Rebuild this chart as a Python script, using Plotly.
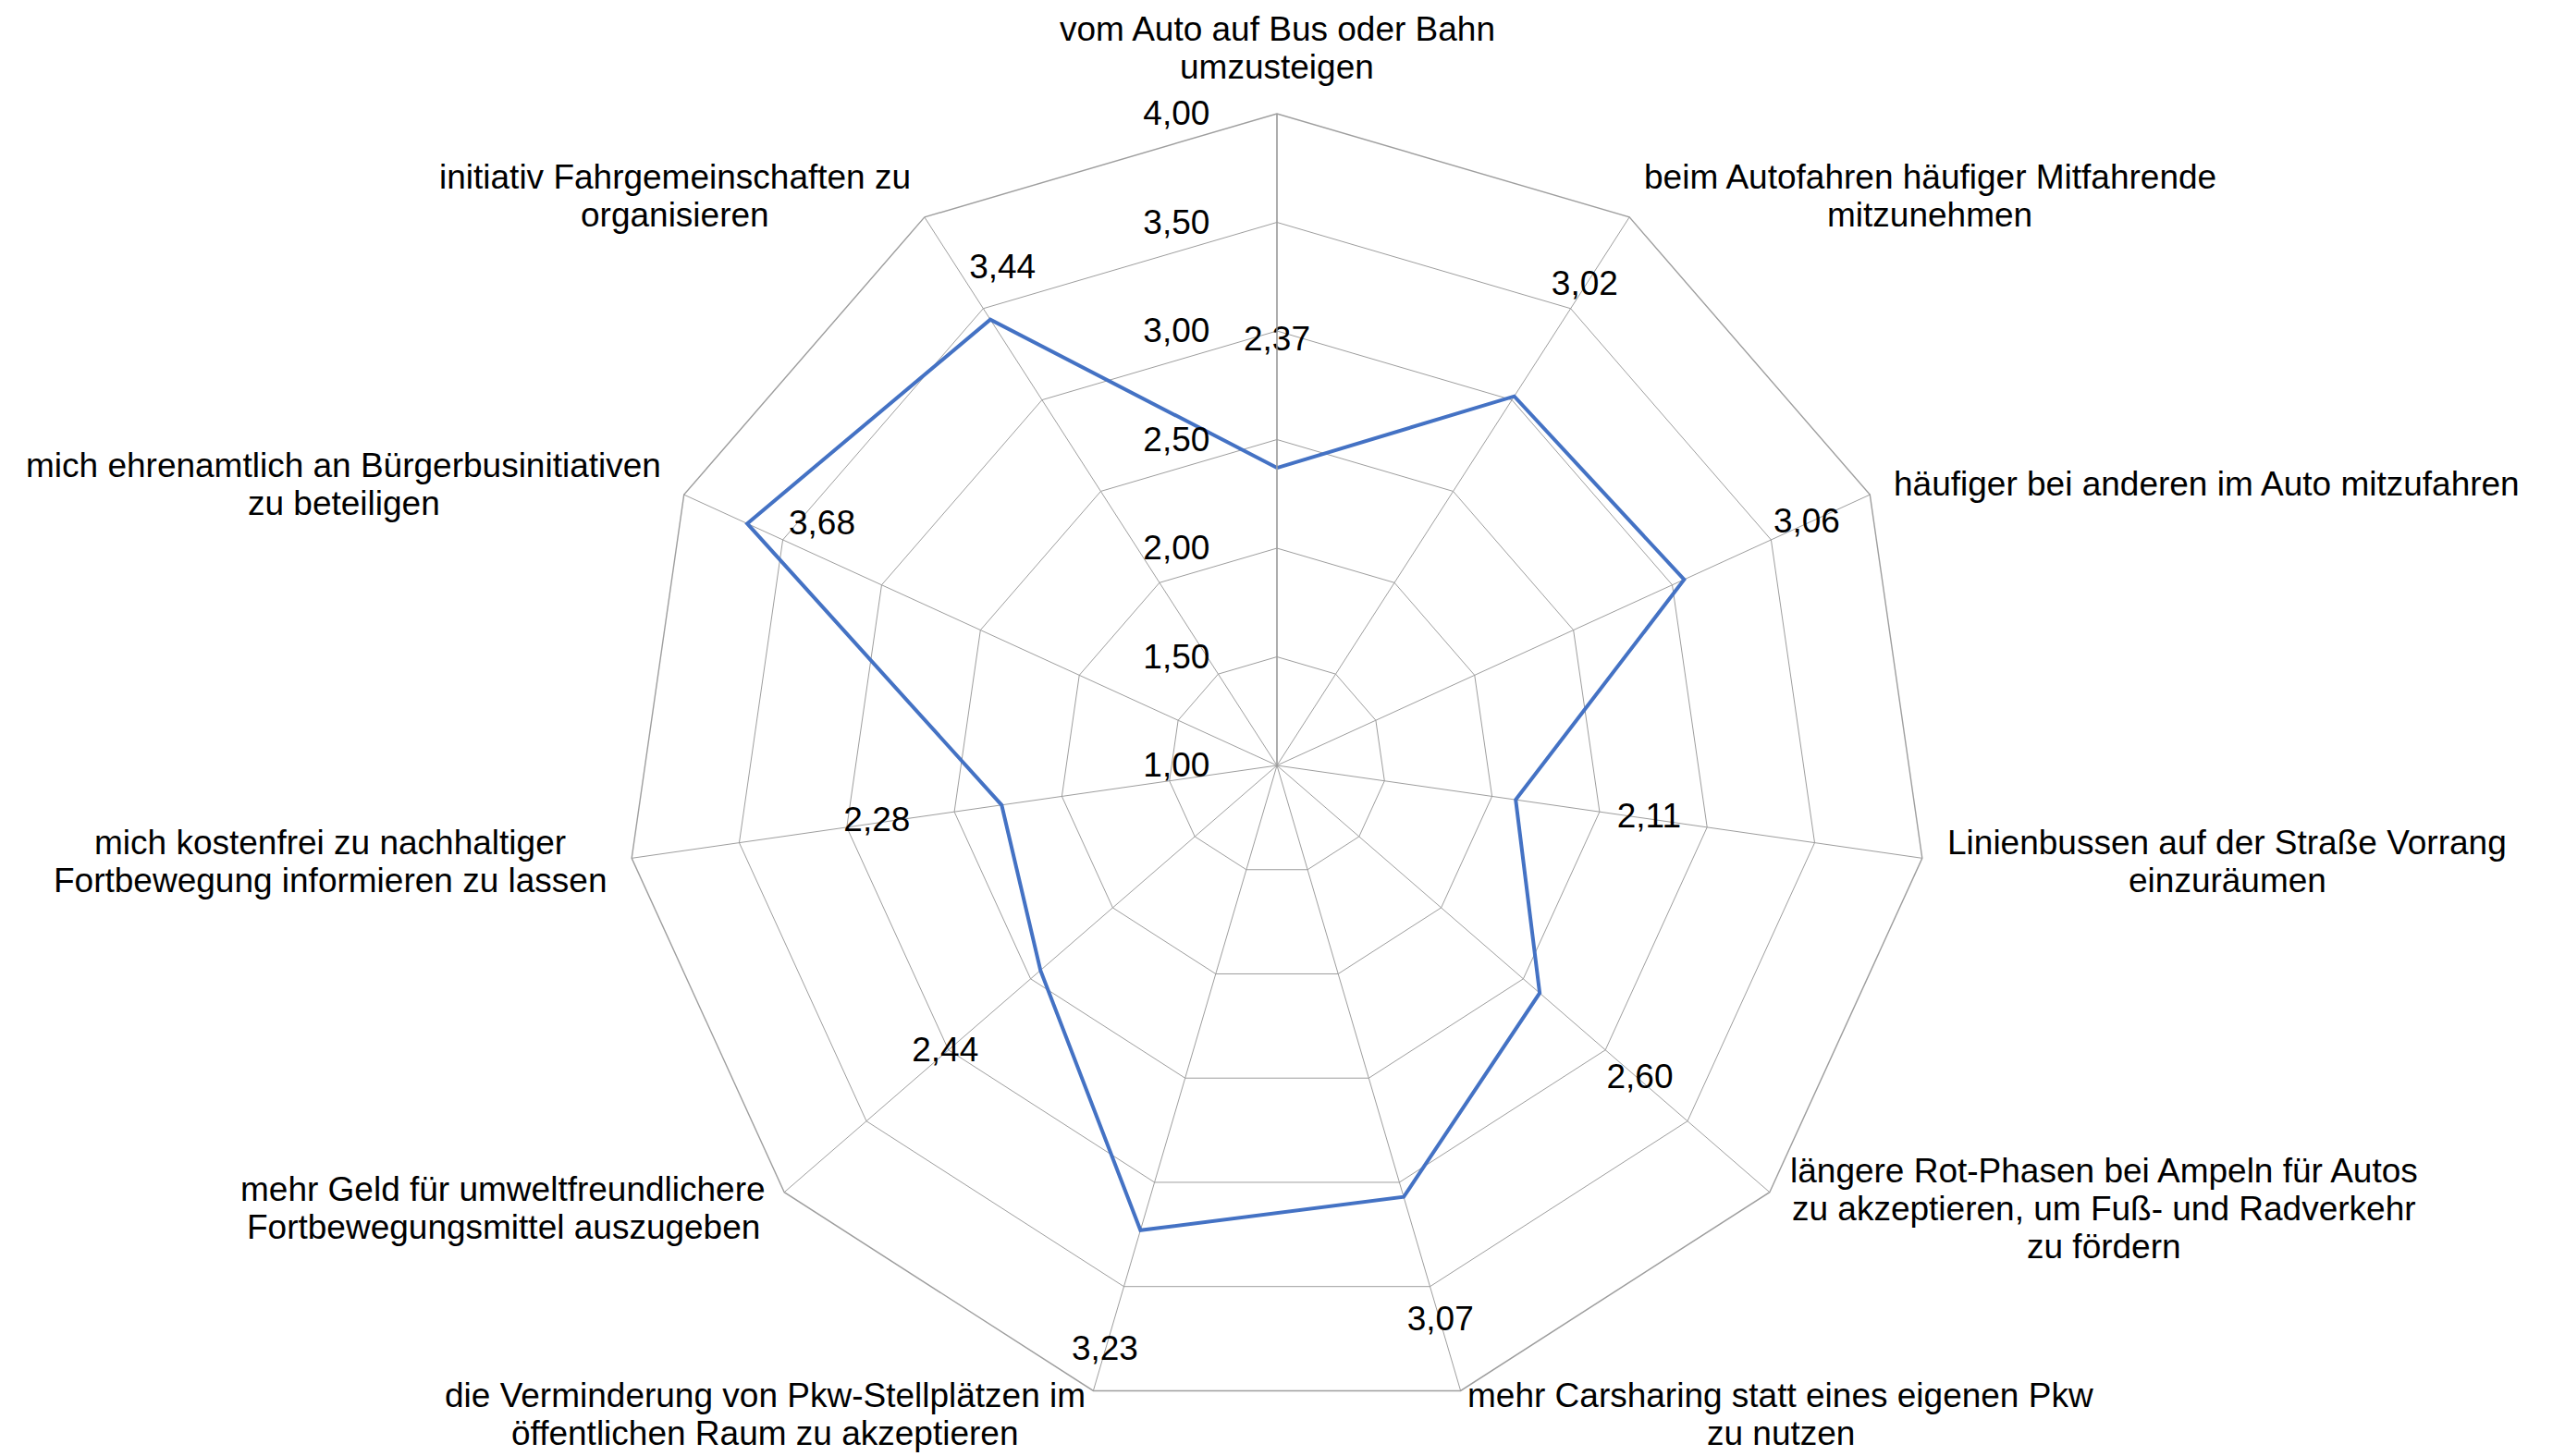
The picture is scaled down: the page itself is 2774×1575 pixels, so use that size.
import math
import plotly.graph_objects as go

# ---- data ----
categories = [
    ["vom Auto auf Bus oder Bahn", "umzusteigen"],
    ["beim Autofahren häufiger Mitfahrende", "mitzunehmen"],
    ["häufiger bei anderen im Auto mitzufahren"],
    ["Linienbussen auf der Straße Vorrang", "einzuräumen"],
    ["längere Rot-Phasen bei Ampeln für Autos", "zu akzeptieren, um Fuß- und Radverkehr", "zu fördern"],
    ["mehr Carsharing statt eines eigenen Pkw", "zu nutzen"],
    ["die Verminderung von Pkw-Stellplätzen im", "öffentlichen Raum zu akzeptieren"],
    ["mehr Geld für umweltfreundlichere", "Fortbewegungsmittel auszugeben"],
    ["mich kostenfrei zu nachhaltiger", "Fortbewegung informieren zu lassen"],
    ["mich ehrenamtlich an Bürgerbusinitiativen", "zu beteiligen"],
    ["initiativ Fahrgemeinschaften zu", "organisieren"],
]
values = [2.37, 3.02, 3.06, 2.11, 2.60, 3.07, 3.23, 2.44, 2.28, 3.68, 3.44]
radial_ticks = [1.0, 1.5, 2.0, 2.5, 3.0, 3.5, 4.0]

# ---- layout / style (positions, not data) ----
W, H = 2774, 1575
OFF = 8                      # page body margin offset of the html page
CX, CY, R = 1381 - OFF, 828 - OFF, 705
R_MIN, R_MAX = 1.0, 4.0
label_r = [2.95, 3.62, 3.68, 2.73, 3.21, 3.67, 3.81, 3.02, 2.86, 3.47, 3.62]
label_pos = ["middle center"] * 9 + ["top right", "top right"]
FONT = "Liberation Sans, Arial, sans-serif"
FS = 37
LH = 41
GRID = "#9E9E9E"
BLUE = "#4472C4"

# Arial / Liberation Sans advance widths (per 1000 em) for centring lines
_AW = {' ': 278, ',': 278, '-': 333, '.': 278, 'a': 556, 'b': 556, 'c': 500, 'd': 556,
       'e': 556, 'f': 278, 'g': 556, 'h': 556, 'i': 222, 'j': 222, 'k': 500, 'l': 222,
       'm': 833, 'n': 556, 'o': 556, 'p': 556, 'q': 556, 'r': 333, 's': 500, 't': 278,
       'u': 556, 'v': 500, 'w': 722, 'x': 500, 'y': 500, 'z': 500, 'ä': 556, 'ö': 556,
       'ü': 556, 'ß': 611, 'A': 667, 'B': 667, 'C': 722, 'D': 722, 'E': 667, 'F': 611,
       'G': 778, 'H': 722, 'I': 278, 'K': 667, 'L': 556, 'M': 833, 'N': 722, 'O': 778,
       'P': 667, 'R': 722, 'S': 667, 'T': 611, 'U': 722, 'V': 667, 'W': 944, 'Z': 611}


def text_w(s):
    return sum(_AW.get(ch, 556) for ch in s) * FS / 1000.0


keys = [" ".join(c) for c in categories]

fig = go.Figure()
fig.add_trace(go.Scatterpolar(
    r=values + values[:1], theta=keys + keys[:1], mode="lines",
    line=dict(color=BLUE, width=4), hoverinfo="skip", showlegend=False,
))
fig.add_trace(go.Scatterpolar(
    r=label_r, theta=keys, mode="text", customdata=values,
    texttemplate="%{customdata:.2f}", textposition=label_pos,
    textfont=dict(family=FONT, size=FS, color="black"),
    cliponaxis=False, hoverinfo="skip", showlegend=False,
))

dom_x = [(CX - R) / W, (CX + R) / W]
dom_y = [1 - (CY + R) / H, 1 - (CY - R) / H]

fig.update_layout(
    width=W, height=H, margin=dict(l=0, r=0, t=0, b=0),
    paper_bgcolor="white", plot_bgcolor="white",
    separators=",.",
    font=dict(family=FONT, size=FS, color="black"),
    polar=dict(
        domain=dict(x=dom_x, y=dom_y),
        bgcolor="white",
        gridshape="linear",
        angularaxis=dict(
            type="category", categoryarray=keys, rotation=90, direction="clockwise",
            showticklabels=False, ticks="", showgrid=True, gridcolor=GRID, gridwidth=1.4,
            showline=True, linecolor=GRID, linewidth=1.4,
        ),
        radialaxis=dict(
            range=[R_MIN, R_MAX], tickvals=radial_ticks, tickformat=".2f",
            angle=90, side="counterclockwise", showline=True, linecolor=GRID, linewidth=1.4,
            gridcolor=GRID, gridwidth=1.4, ticks="outside", ticklen=59,
            tickcolor="rgba(0,0,0,0)", tickangle=90,
            tickfont=dict(family=FONT, size=FS, color="black"),
        ),
    ),
)

# category labels, placed just outside each outer vertex, lines centred in block
n = len(categories)
for i, lines in enumerate(categories):
    phi = math.radians(i * 360.0 / n)
    s, c = math.sin(phi), math.cos(phi)
    vx, vy = CX + R * s, CY - R * c
    bw = max(text_w(t) for t in lines)
    bh = LH * len(lines)
    if c > 0.95:
        cx_b = vx
        top = vy - 30 - bh
    else:
        d = 27
        ax, ay = vx + d * s, vy - d * c
        if s > 0.2:
            cx_b = ax + bw / 2
        elif s < -0.2:
            cx_b = ax - bw / 2
        else:
            cx_b = ax
        top = ay - bh / 2
    for k, t in enumerate(lines):
        ly = top + LH * (k + 0.5)
        fig.add_annotation(
            x=cx_b / W, y=1 - ly / H, xref="paper", yref="paper", text=t,
            showarrow=False, xanchor="center", yanchor="middle",
            font=dict(family=FONT, size=FS, color="black"),
        )

fig.write_html("out.html")
